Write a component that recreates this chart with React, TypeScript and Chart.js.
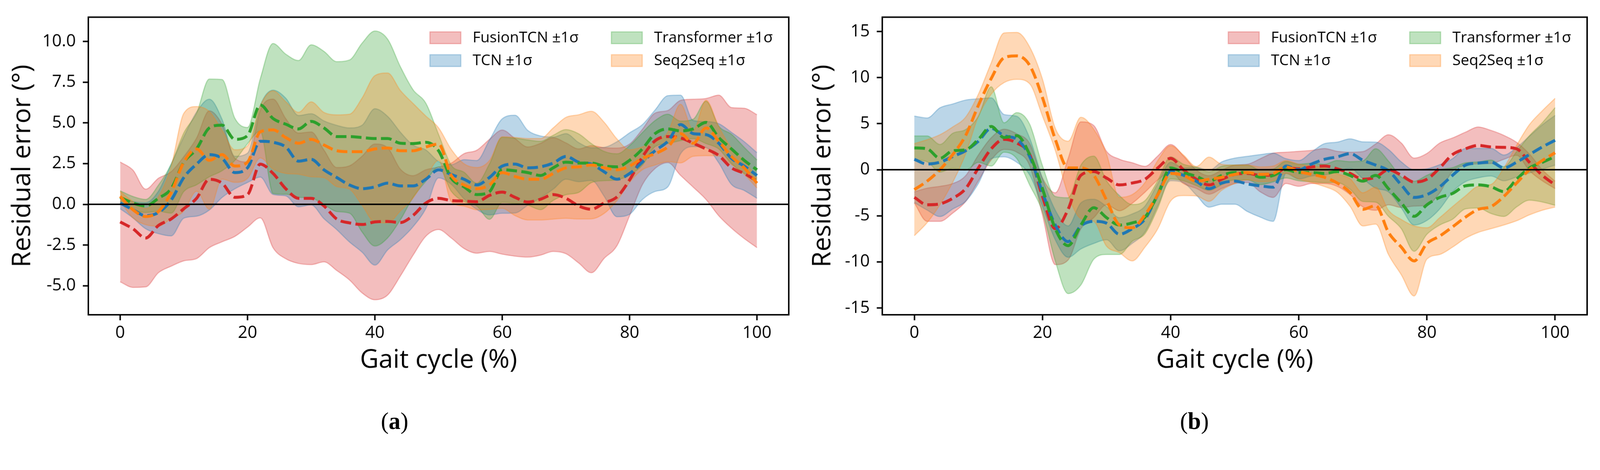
import { useEffect, useRef, useState } from "react";
import Chart from "chart.js/auto";

const FONT = "'Open Sans', sans-serif";

const gait = [0, 2, 4, 6, 8, 10, 12, 14, 16, 18, 20, 22, 24, 26, 28, 30, 32, 34, 36, 38, 40, 42, 44, 46, 48, 50,
  52, 54, 56, 58, 60, 62, 64, 66, 68, 70, 72, 74, 76, 78, 80, 82, 84, 86, 88, 90, 92, 94, 96, 98, 100];

const models = ["FusionTCN", "TCN", "Transformer", "Seq2Seq"];
const lineColors = ["#d62728", "#1f77b4", "#2ca02c", "#ff7f0e"];
const bandRgb = ["214,39,40", "31,119,180", "44,160,44", "255,127,14"];

const xTicks = [0, 20, 40, 60, 80, 100];
const yTicksA = [-5, -2.5, 0, 2.5, 5, 7.5, 10];
const yTicksB = [-15, -10, -5, 0, 5, 10, 15];

// panel (a): mean residual and 1 sigma per model
const fusionMeanA = [-1.08, -1.5, -2.07, -1.3, -0.9, -0.27, 0.37, 1.54, 1.3, 0.43,
  0.6, 2.47, 1.9, 0.96, 0.37, 0.37, -0.1, -0.9, -1.14, -1.24,
  -1.08, -1.05, -1.12, -0.68, 0.08, 0.37, 0.23, 0.2, 0.16, 0.55,
  0.75, 0.43, 0.14, 0.31, 0.6, 0.37, -0.1, -0.3, 0.08, 0.45,
  1.5, 2.9, 3.9, 4.16, 4.08, 3.75, 3.4, 3.0, 2.24, 1.9,
  1.42];
const fusionSdA = [3.68, 3.6, 3.0, 2.9, 2.9, 3.2, 3.7, 4.2, 3.6, 2.4,
  2.0, 3.3, 4.56, 4.3, 4.0, 4.07, 3.43, 3.16, 3.5, 4.2,
  4.78, 4.52, 3.28, 2.44, 2.04, 1.92, 2.3, 2.91, 3.16, 3.44,
  3.81, 3.61, 3.38, 3.43, 3.49, 3.4, 3.5, 3.9, 3.4, 3.0,
  2.2, 1.7, 1.7, 1.6, 2.3, 2.7, 3.1, 3.7, 3.7, 4.0,
  4.08];
const tcnMeanA = [0.08, -0.33, -0.7, -0.5, 0.26, 1.65, 2.47, 3.05, 2.82, 1.95,
  2.24, 3.87, 3.81, 3.52, 2.65, 2.76, 2.12, 1.65, 1.19, 0.96,
  1.07, 1.3, 1.13, 1.13, 1.54, 2.12, 1.83, 1.54, 1.19, 1.65,
  2.35, 2.47, 2.24, 2.3, 2.53, 2.94, 2.59, 2.47, 2.0, 1.54,
  1.89, 2.59, 3.29, 3.87, 4.9, 4.34, 4.28, 3.75, 2.82, 2.35,
  1.77];
const tcnSdA = [0.35, 0.5, 0.8, 1.3, 2.2, 2.5, 3.2, 3.4, 2.4, 1.0,
  0.9, 2.2, 3.2, 3.0, 2.8, 2.8, 3.0, 3.2, 3.5, 3.9,
  4.8, 4.1, 3.3, 2.5, 1.8, 0.5, 0.6, 1.2, 1.5, 2.3,
  2.9, 3.0, 2.3, 1.9, 1.6, 1.4, 1.2, 1.0, 1.5, 2.3,
  2.5, 2.3, 2.5, 2.8, 1.8, 0.8, 0.8, 1.2, 1.6, 1.5,
  1.4];
const transformerMeanA = [0.43, 0.08, -0.1, 0.37, 0.96, 2.59, 3.4, 4.69, 4.86, 3.99,
  4.22, 6.1, 5.27, 4.92, 4.63, 5.09, 4.69, 4.16, 4.16, 4.1,
  4.04, 4.04, 3.75, 3.73, 3.81, 3.29, 1.6, 1.07, 0.6, 0.78,
  2.12, 2.06, 1.95, 1.77, 2.24, 2.59, 2.53, 2.53, 2.35, 2.3,
  2.7, 3.4, 4.34, 4.63, 4.51, 4.63, 5.03, 4.1, 3.4, 2.7,
  2.12];
const transformerSdA = [0.4, 0.4, 0.4, 0.8, 1.5, 1.8, 2.2, 3.0, 2.8, 1.3,
  0.5, 1.6, 4.6, 4.3, 4.2, 4.7, 4.7, 4.6, 4.7, 5.8,
  6.6, 6.1, 4.7, 3.3, 2.4, 1.0, 0.8, 0.9, 0.7, 1.7,
  2.0, 2.0, 2.0, 2.1, 2.0, 2.0, 1.8, 1.2, 0.9, 0.8,
  0.9, 1.0, 0.8, 0.9, 0.6, 0.6, 1.3, 0.7, 0.9, 0.8,
  0.6];
const seq2seqMeanA = [0.49, -0.33, -0.75, -0.44, 0.72, 2.59, 3.4, 2.7, 3.05, 2.35,
  2.59, 4.45, 4.57, 4.1, 3.75, 3.99, 3.64, 3.29, 3.23, 3.23,
  3.4, 3.46, 3.29, 3.29, 3.52, 3.7, 1.77, 1.19, 0.96, 1.19,
  1.95, 1.71, 1.54, 1.54, 1.89, 2.24, 2.3, 2.41, 2.24, 2.12,
  2.35, 2.82, 3.11, 3.52, 4.34, 3.75, 4.69, 3.87, 2.94, 2.24,
  1.3];
const seq2seqSdA = [0.3, 0.5, 0.5, 0.9, 1.6, 3.0, 2.6, 3.0, 1.5, 1.0,
  1.0, 1.6, 2.4, 2.2, 1.9, 2.3, 2.0, 2.2, 2.3, 3.3,
  4.5, 4.6, 3.7, 2.9, 1.9, 1.0, 1.6, 1.3, 1.3, 1.5,
  2.2, 2.4, 2.5, 2.5, 2.8, 3.1, 3.2, 3.3, 2.8, 1.9,
  1.0, 0.7, 0.7, 0.9, 1.8, 0.8, 1.7, 0.9, 0.5, 0.4,
  0.3];

// panel (b)
const fusionMeanB = [-3.0, -3.8, -3.7, -3.1, -2.06, 0.2, 2.27, 3.3, 2.9, 1.65,
  -2.9, -6.4, -4.3, -0.6, -0.2, -0.9, -1.65, -1.44, -1.03, 0.2,
  1.24, 0.0, -1.03, -1.65, -1.03, -0.5, -0.4, -0.6, -0.6, 0.2,
  0.1, 0.3, 0.4, 0.1, -0.4, -1.03, -0.8, 0.0, -0.6, -1.34,
  -1.03, 0.2, 1.65, 2.27, 2.64, 2.47, 2.43, 2.27, 0.8, -0.6,
  -1.65];
const fusionSdB = [0.6, 1.8, 1.9, 1.6, 1.4, 1.4, 1.2, 1.1, 1.0, 1.2,
  2.0, 3.9, 5.5, 5.8, 5.0, 2.9, 2.8, 2.2, 1.4, 1.3,
  1.5, 1.5, 1.0, 1.0, 1.0, 1.0, 1.0, 1.8, 2.4, 1.7,
  1.9, 1.8, 1.9, 1.9, 2.3, 3.0, 3.6, 3.8, 3.5, 2.6,
  2.8, 2.7, 1.8, 1.8, 2.0, 1.8, 1.3, 0.7, 0.9, 0.6,
  0.4];
const tcnMeanB = [1.13, 0.62, 0.82, 1.44, 2.06, 3.1, 4.5, 3.7, 3.3, 1.44,
  -2.47, -6.0, -7.8, -6.1, -5.6, -5.8, -7.0, -6.4, -5.35, -2.7,
  -0.2, -0.6, -1.24, -2.06, -1.44, -1.24, -1.54, -1.75, -1.9, 0.4,
  0.0, 0.62, 1.13, 1.4, 1.75, 1.03, 0.5, -0.1, -1.65, -3.0,
  -2.7, -1.85, -0.6, 0.5, 0.72, 0.82, 0.2, 0.82, 1.65, 2.47,
  3.2];
const tcnSdB = [4.7, 5.0, 5.9, 5.7, 5.5, 4.6, 3.3, 2.3, 2.5, 2.0,
  1.5, 1.6, 1.7, 2.5, 2.4, 1.8, 1.8, 1.6, 1.4, 1.2,
  1.0, 0.8, 1.5, 2.0, 2.3, 2.5, 3.0, 3.4, 3.7, 0.8,
  1.0, 1.3, 1.7, 1.6, 1.6, 2.0, 2.5, 2.3, 2.5, 3.0,
  2.8, 2.4, 1.8, 1.8, 1.6, 1.5, 1.4, 1.6, 2.0, 2.4,
  2.7];
const transformerMeanB = [2.37, 2.27, 1.24, 2.06, 2.16, 3.3, 4.7, 3.5, 3.7, 1.65,
  -2.06, -6.4, -8.24, -6.0, -4.12, -5.2, -6.0, -5.77, -5.15, -2.68,
  0.2, -0.3, -0.72, -1.24, -0.62, -0.3, -0.3, -0.82, -0.62, 0.0,
  -0.3, -0.3, -0.4, -0.2, -0.62, -1.24, -0.62, -2.06, -3.6, -5.05,
  -3.8, -3.0, -2.57, -1.75, -1.65, -1.85, -2.37, -1.03, 0.2, 0.8,
  1.44];
const transformerSdB = [1.3, 1.4, 1.5, 1.9, 2.2, 2.5, 4.3, 1.6, 2.5, 3.3,
  2.5, 3.5, 5.2, 6.5, 5.6, 4.0, 3.2, 2.0, 1.8, 1.5,
  1.2, 0.9, 1.0, 1.0, 1.0, 0.8, 0.8, 0.8, 0.7, 0.9,
  0.9, 1.0, 1.0, 1.2, 1.5, 2.2, 2.9, 3.0, 2.8, 3.8,
  3.2, 3.0, 2.8, 2.5, 2.5, 2.9, 2.7, 3.0, 3.5, 4.3,
  5.3];
const seq2seqMeanB = [-2.16, -1.24, 0.0, 1.65, 3.7, 7.0, 9.9, 12.15, 12.36, 11.33,
  7.83, 3.3, 0.2, 0.2, -0.6, -3.3, -6.0, -6.3, -4.9, -2.7,
  -0.4, -0.6, -1.24, -1.03, -0.82, -0.5, -0.3, -0.5, -0.4, 0.3,
  -0.2, -0.5, -0.82, -1.44, -2.47, -4.3, -3.9, -6.8, -8.4, -9.9,
  -8.0, -7.2, -6.2, -5.15, -4.3, -4.0, -2.9, -1.44, 0.0, 1.0,
  1.85];
const seq2seqSdB = [5.0, 4.5, 3.8, 3.0, 2.0, 1.2, 1.7, 2.7, 2.55, 2.0,
  2.0, 1.2, 2.9, 5.5, 5.0, 5.0, 3.0, 3.6, 3.5, 3.7,
  3.0, 2.2, 1.6, 2.4, 1.4, 1.0, 0.8, 0.8, 0.8, 0.7,
  0.8, 0.9, 1.0, 1.0, 1.5, 1.8, 2.0, 2.4, 3.0, 3.8,
  1.7, 2.0, 2.2, 2.3, 2.5, 2.4, 3.1, 4.1, 4.9, 5.4,
  5.9];

interface PanelProps {
  means: number[][];
  sds: number[][];
  yMin: number;
  yMax: number;
  yTicks: number[];
  decimals: number;
  left: number;
  width: number;
  axisWidth: number;
  padRight: number;
  titlePad: number;
}

const PAGE_W = 4347;
const PAGE_H = 1203;
const HEIGHT = 1070;
const AREA_BOTTOM = 855;

function Panel({ means, sds, yMin, yMax, yTicks, decimals, left, width, axisWidth, padRight, titlePad }: PanelProps) {
  const chartRef = useRef<HTMLCanvasElement>(null);

  useEffect(() => {
    if (!chartRef.current) return;
    const datasets: any[] = [];
    models.forEach((m, i) => {
      const band = `rgba(${bandRgb[i]},0.3)`;
      datasets.push({
        label: `${m} ±1σ`,
        data: gait.map((x, k) => ({ x, y: means[i][k] + sds[i][k] })),
        fill: "+1",
        backgroundColor: band,
        borderColor: band,
        borderWidth: 3,
        pointRadius: 0,
        cubicInterpolationMode: "monotone",
        order: 10 - i,
      });
      datasets.push({
        label: "",
        data: gait.map((x, k) => ({ x, y: means[i][k] - sds[i][k] })),
        fill: false,
        borderColor: band,
        borderWidth: 3,
        pointRadius: 0,
        cubicInterpolationMode: "monotone",
        order: 10 - i,
      });
    });
    models.forEach((m, i) => {
      datasets.push({
        label: m,
        data: gait.map((x, k) => ({ x, y: means[i][k] })),
        fill: false,
        borderColor: lineColors[i],
        borderWidth: 8,
        borderDash: [29, 12],
        pointRadius: 0,
        cubicInterpolationMode: "monotone",
        order: 4 - i,
      });
    });

    const decorations = {
      id: "decorations",
      afterDatasetsDraw(chart: any) {
        const { ctx, chartArea } = chart;
        const y0 = chart.scales.y.getPixelForValue(0);
        ctx.save();
        ctx.strokeStyle = "#000";
        ctx.lineWidth = 4;
        ctx.beginPath();
        ctx.moveTo(chartArea.left, y0);
        ctx.lineTo(chartArea.right, y0);
        ctx.stroke();
        ctx.restore();
      },
      afterDraw(chart: any) {
        const { ctx, chartArea } = chart;
        ctx.save();
        ctx.strokeStyle = "#000";
        ctx.lineWidth = 4;
        ctx.strokeRect(chartArea.left, chartArea.top, chartArea.right - chartArea.left, chartArea.bottom - chartArea.top);
        // legend, two columns
        ctx.font = `41px ${FONT}`;
        ctx.textBaseline = "middle";
        ctx.textAlign = "left";
        models.forEach((m, i) => {
          const col = Math.floor(i / 2);
          const row = i % 2;
          const bx = chartArea.right - (col === 0 ? 975 : 482);
          const cy = chartArea.top + (row === 0 ? 56 : 118);
          const band = `rgba(${bandRgb[i]},0.3)`;
          ctx.fillStyle = band;
          ctx.fillRect(bx, cy - 16, 84, 32);
          ctx.strokeStyle = band;
          ctx.lineWidth = 3;
          ctx.strokeRect(bx, cy - 16, 84, 32);
          ctx.fillStyle = "#000";
          ctx.fillText(`${m} ±1σ`, bx + 116, cy + 1);
        });
        ctx.restore();
      },
    };

    const chart = new Chart(chartRef.current, {
      type: "line",
      data: { datasets },
      plugins: [decorations],
      options: {
        animation: false,
        responsive: false,
        devicePixelRatio: 1,
        layout: { padding: { left: 0, top: 29, right: padRight, bottom: 0 } },
        plugins: { legend: { display: false }, tooltip: { enabled: false } },
        scales: {
          x: {
            type: "linear",
            min: -5,
            max: 105,
            afterBuildTicks: (axis: any) => {
              axis.ticks = xTicks.map((v) => ({ value: v }));
            },
            afterFit: (axis: any) => {
              axis.height = HEIGHT - AREA_BOTTOM;
            },
            ticks: {
              color: "#000",
              font: { family: FONT, size: 46 },
              padding: 7,
              maxRotation: 0,
              autoSkip: false,
              callback: (v: any) => String(v),
            },
            grid: { display: true, drawOnChartArea: false, drawTicks: true, tickLength: 15, tickWidth: 4, tickColor: "#000" },
            border: { display: false },
            title: {
              display: true,
              text: "Gait cycle (%)",
              color: "#000",
              font: { family: FONT, size: 70 },
              padding: { top: 0, bottom: 49 },
            },
          },
          y: {
            type: "linear",
            min: yMin,
            max: yMax,
            afterBuildTicks: (axis: any) => {
              axis.ticks = yTicks.map((v) => ({ value: v }));
            },
            afterFit: (axis: any) => {
              axis.width = axisWidth;
            },
            ticks: {
              color: "#000",
              font: { family: FONT, size: 46 },
              padding: 19,
              autoSkip: false,
              callback: (v: any) => Number(v).toFixed(decimals),
            },
            grid: { display: true, drawOnChartArea: false, drawTicks: true, tickLength: 15, tickWidth: 4, tickColor: "#000" },
            border: { display: false },
            title: {
              display: true,
              text: "Residual error (°)",
              color: "#000",
              font: { family: FONT, size: 70 },
              padding: { top: titlePad, bottom: 0 },
            },
          },
        },
      } as any,
    });

    return () => {
      chart.destroy();
    };
  }, []);

  return (
    <canvas
      ref={chartRef}
      width={width}
      height={HEIGHT}
      style={{ position: "absolute", left, top: 0, width, height: HEIGHT }}
    ></canvas>
  );
}

export default function App() {
  const [scale, setScale] = useState(1);
  useEffect(() => {
    const w = window.innerWidth || PAGE_W;
    const h = window.innerHeight || PAGE_H;
    setScale(Math.min(w / PAGE_W, h / PAGE_H));
  }, []);

  const captionStyle: any = {
    position: "absolute",
    top: 1107,
    width: 200,
    textAlign: "center",
    fontFamily: "'Liberation Serif', serif",
    fontSize: 64,
    lineHeight: "74px",
    color: "#000",
  };
  return (
    <div
      style={{
        position: "absolute",
        left: 0,
        top: 0,
        width: PAGE_W,
        height: PAGE_H,
        background: "#fff",
        overflow: "hidden",
        transform: `scale(${scale})`,
        transformOrigin: "0 0",
      }}
    >
      <Panel
        means={[fusionMeanA, tcnMeanA, transformerMeanA, seq2seqMeanA]}
        sds={[fusionSdA, tcnSdA, transformerSdA, seq2seqSdA]}
        yMin={-6.78}
        yMax={11.49}
        yTicks={yTicksA}
        decimals={1}
        left={0}
        width={2170}
        axisWidth={240}
        padRight={27}
        titlePad={20}
      />
      <Panel
        means={[fusionMeanB, tcnMeanB, transformerMeanB, seq2seqMeanB]}
        sds={[fusionSdB, tcnSdB, transformerSdB, seq2seqSdB]}
        yMin={-15.74}
        yMax={16.56}
        yTicks={yTicksB}
        decimals={0}
        left={2170}
        width={2177}
        axisWidth={227}
        padRight={35}
        titlePad={24}
      />
      <div style={{ ...captionStyle, left: 972 }}>
        (<b>a</b>)
      </div>
      <div style={{ ...captionStyle, left: 3145 }}>
        (<b>b</b>)
      </div>
    </div>
  );
}
